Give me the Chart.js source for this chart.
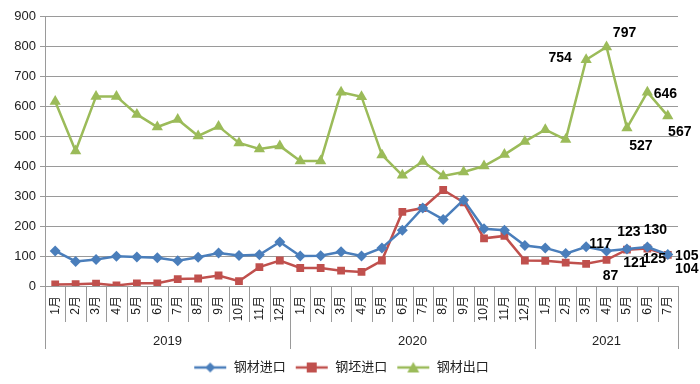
<!DOCTYPE html>
<html>
<head>
<meta charset="utf-8">
<script src="https://cdn.jsdelivr.net/npm/chart.js@4"></script>
<style>
  html, body { margin: 0; padding: 0; background: #fff; }
  #wrap { width: 700px; height: 384px; }
</style>
</head>
<body>
<div id="wrap"><canvas id="steelChart"></canvas></div>
<script>
// 钢材进出口 — monthly, 2019.1 ~ 2021.7

const YEARS = ['2019', '2020', '2021'];
const MONTHS_PER_YEAR = [12, 12, 7];

const MONTH_LABELS = [
    '1月', '2月', '3月', '4月', '5月', '6月', '7月', '8月', '9月', '10月', '11月', '12月',
    '1月', '2月', '3月', '4月', '5月', '6月', '7月', '8月', '9月', '10月', '11月', '12月',
    '1月', '2月', '3月', '4月', '5月', '6月', '7月'
];

const STEEL_IMPORT = [
    117, 82, 88, 99, 97, 94, 84, 96, 110, 102, 104, 147,
    100, 101, 114, 100, 127, 186, 260, 222, 287, 191, 186, 135,
    127, 108, 131, 117, 123, 130, 105
];

const BILLET_IMPORT = [
    5, 6, 8, 2, 9, 9, 23, 25, 35, 16, 63, 85,
    60, 60, 51, 47, 85, 247, 260, 320, 279, 159, 167, 85,
    84, 78, 74, 87, 121, 125, 104
];

const STEEL_EXPORT = [
    615, 450, 632, 632, 572, 530, 555, 500, 532, 477, 457, 467,
    417, 417, 646, 631, 437, 369, 415, 367, 380, 400, 438, 482,
    521, 488, 754, 797, 527, 646, 567
];

const Y_TICKS = [0, 100, 200, 300, 400, 500, 600, 700, 800, 900];

const COLORS = {
    steelImport: '#4A7EBB',
    billetImport: '#C0504D',
    steelExport: '#9BBB59',
    grid: '#9a9a9a',
    text: '#222',
};

const FONT = "'Liberation Sans', 'Noto Sans CJK SC', sans-serif";

// value labels on the last months: [datasetIndex, pointIndex, dx, dy]
const VALUE_LABELS = [
    [2, 26, -26, -2], [2, 27, 18, -14], [2, 28, 14, 18], [2, 29, 18, 2], [2, 30, 12, 16],
    [0, 27, -6, -7], [0, 28, 2, -17], [0, 29, 8, -17], [0, 30, 19, 2],
    [1, 27, 4, 16], [1, 28, 8, 13], [1, 29, 7, 11], [1, 30, 19, 14],
];

function legendIcon(color, style) {
    const c = document.createElement('canvas');
    c.width = 34; c.height = 14;
    const g = c.getContext('2d');
    g.strokeStyle = color; g.fillStyle = color; g.lineWidth = 2.5;
    g.beginPath(); g.moveTo(1, 7); g.lineTo(33, 7); g.stroke();
    g.beginPath();
    if (style === 'diamond') {
        g.moveTo(17, 2); g.lineTo(22, 7); g.lineTo(17, 12); g.lineTo(12, 7);
    } else if (style === 'square') {
        g.rect(12, 2, 10, 10);
    } else {
        g.moveTo(17, 1.5); g.lineTo(23, 12); g.lineTo(11, 12);
    }
    g.closePath(); g.fill();
    return c;
}

const yearAxisPlugin = {
    id: 'yearAxis',
    afterDraw(chart) {
        const ctx = chart.ctx;
        const x = chart.scales.x;
        const area = chart.chartArea;
        const step = x.getPixelForValue(1) - x.getPixelForValue(0);
        ctx.save();
        ctx.strokeStyle = COLORS.grid;
        ctx.lineWidth = 1;
        // separators between months
        for (let i = 0; i <= MONTH_LABELS.length; i++) {
            const px = Math.round(x.getPixelForValue(i) - step / 2) + 0.5;
            ctx.beginPath();
            ctx.moveTo(px, area.bottom);
            ctx.lineTo(px, area.bottom + 36);
            ctx.stroke();
        }
        // year groups
        ctx.fillStyle = COLORS.text;
        ctx.font = '13px ' + FONT;
        ctx.textAlign = 'center';
        ctx.textBaseline = 'middle';
        let start = 0;
        YEARS.forEach((yr, k) => {
            const end = start + MONTHS_PER_YEAR[k];
            const x0 = x.getPixelForValue(start) - step / 2;
            const x1 = x.getPixelForValue(end - 1) + step / 2;
            [x0, x1].forEach(px => {
                ctx.beginPath();
                ctx.moveTo(Math.round(px) + 0.5, area.bottom);
                ctx.lineTo(Math.round(px) + 0.5, area.bottom + 63);
                ctx.stroke();
            });
            ctx.fillText(yr, (x0 + x1) / 2, area.bottom + 55);
            start = end;
        });
        // value labels
        ctx.font = 'bold 14px ' + FONT;
        ctx.fillStyle = '#000';
        VALUE_LABELS.forEach(([d, i, dx, dy]) => {
            const pt = chart.getDatasetMeta(d).data[i];
            const val = chart.data.datasets[d].data[i];
            ctx.fillText(String(val), pt.x + dx, pt.y + dy);
        });
        ctx.restore();
    }
};

function series(label, data, color, style, radius) {
    return {
        label,
        data,
        borderColor: color,
        backgroundColor: color,
        borderWidth: 2.5,
        pointStyle: style,
        pointRadius: radius,
        pointBorderWidth: 0,
        pointHoverRadius: radius,
        tension: 0,
        icon: legendIcon(color, style === 'rectRot' ? 'diamond' : style === 'rect' ? 'square' : 'triangle'),
    };
}

new Chart(document.getElementById('steelChart'), {
    type: 'line',
    data: {
        labels: MONTH_LABELS,
        datasets: [
            series('钢材进口', STEEL_IMPORT, COLORS.steelImport, 'rectRot', 5.5),
            series('钢坯进口', BILLET_IMPORT, COLORS.billetImport, 'rect', 5.5),
            series('钢材出口', STEEL_EXPORT, COLORS.steelExport, 'triangle', 6.5),
        ]
    },
    options: {
        responsive: true,
        maintainAspectRatio: false,
        animation: false,
        layout: { padding: { top: 16, right: 22, left: 4, bottom: 0 } },
        plugins: {
            legend: {
                position: 'bottom',
                labels: {
                    color: COLORS.text,
                    font: { family: FONT, size: 13 },
                    usePointStyle: true,
                    pointStyleWidth: 34,
                    padding: 9,
                    generateLabels: chart => chart.data.datasets.map((ds, i) => ({
                        text: ds.label,
                        pointStyle: ds.icon,
                        fontColor: COLORS.text,
                        datasetIndex: i,
                        hidden: false,
                        lineWidth: 0,
                    }))
                }
            },
            tooltip: { enabled: false }
        },
        scales: {
            x: {
                offset: true,
                grid: { display: false },
                border: { color: COLORS.grid },
                ticks: {
                    color: COLORS.text,
                    font: { family: FONT, size: 12 },
                    minRotation: 90,
                    maxRotation: 90,
                    autoSkip: false,
                    padding: 2,
                },
                afterFit: s => { s.height = 66; }
            },
            y: {
                min: 0,
                max: 900,
                afterBuildTicks: s => { s.ticks = Y_TICKS.map(v => ({ value: v })); },
                grid: { color: COLORS.grid, drawTicks: true, tickLength: 5 },
                border: { color: COLORS.grid },
                ticks: {
                    color: COLORS.text,
                    font: { family: FONT, size: 13 },
                    padding: 4,
                },
                afterFit: s => { s.width = 41; }
            }
        }
    },
    plugins: [yearAxisPlugin]
});
</script>
</body>
</html>
